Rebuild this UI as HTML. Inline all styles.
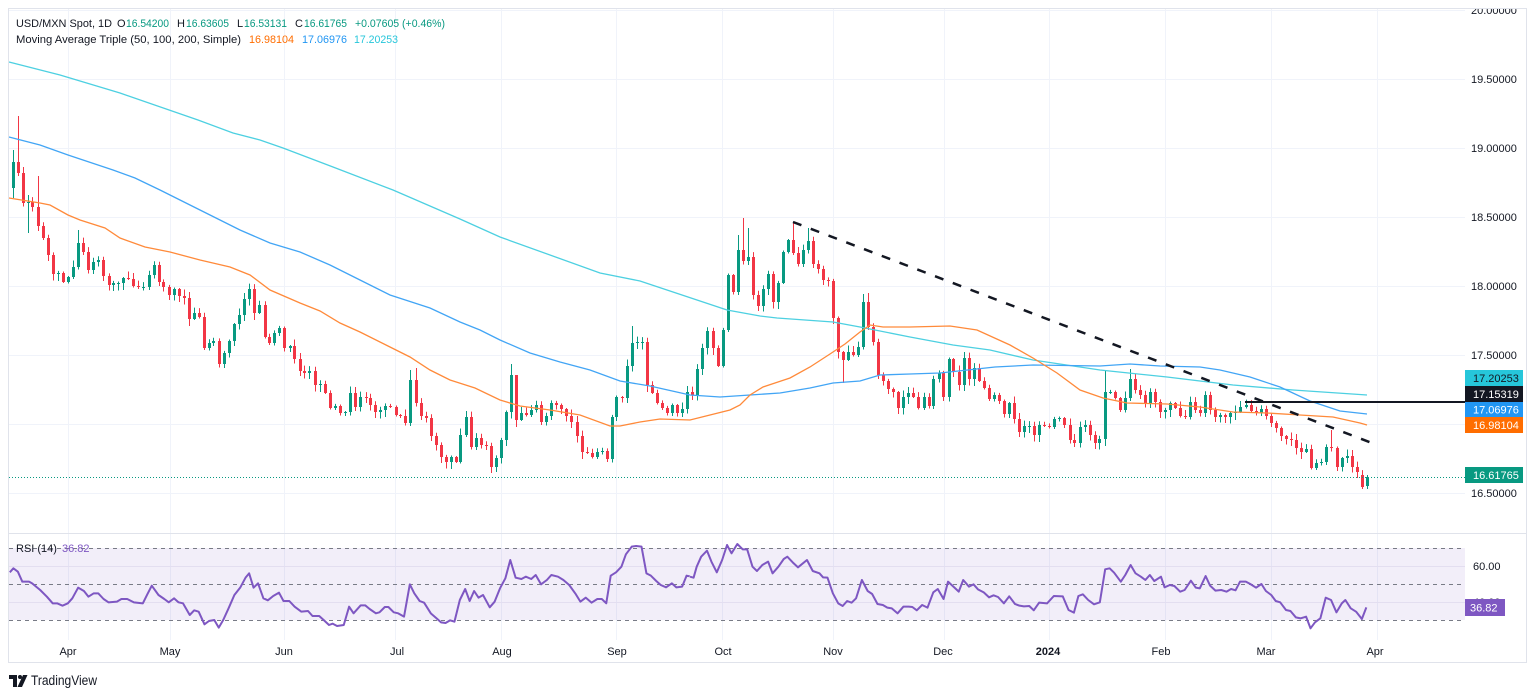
<!DOCTYPE html>
<html><head><meta charset="utf-8">
<style>
html,body{margin:0;padding:0;background:#fff;width:1536px;height:697px;overflow:hidden}
svg{display:block}
text{font-family:"Liberation Sans",sans-serif}
</style></head>
<body>
<svg id="s" width="1536" height="697" viewBox="0 0 1536 697" xmlns="http://www.w3.org/2000/svg">
<rect x="0" y="0" width="1536" height="697" fill="#fff"/>
<!-- grid -->
<g stroke="#f0f3fa" stroke-width="1">
<line x1="9" y1="79.5" x2="1465" y2="79.5"/>
<line x1="9" y1="148.5" x2="1465" y2="148.5"/>
<line x1="9" y1="217.5" x2="1465" y2="217.5"/>
<line x1="9" y1="286.5" x2="1465" y2="286.5"/>
<line x1="9" y1="355.5" x2="1465" y2="355.5"/>
<line x1="9" y1="424.5" x2="1465" y2="424.5"/>
<line x1="9" y1="493.5" x2="1465" y2="493.5"/>
<line x1="9" y1="10.5" x2="1465" y2="10.5"/>
<line x1="68.5" y1="9" x2="68.5" y2="640"/>
<line x1="170.5" y1="9" x2="170.5" y2="640"/>
<line x1="284.5" y1="9" x2="284.5" y2="640"/>
<line x1="395.5" y1="9" x2="395.5" y2="640"/>
<line x1="501.5" y1="9" x2="501.5" y2="640"/>
<line x1="616.5" y1="9" x2="616.5" y2="640"/>
<line x1="722.5" y1="9" x2="722.5" y2="640"/>
<line x1="833.5" y1="9" x2="833.5" y2="640"/>
<line x1="944.5" y1="9" x2="944.5" y2="640"/>
<line x1="1049.5" y1="9" x2="1049.5" y2="640"/>
<line x1="1165.5" y1="9" x2="1165.5" y2="640"/>
<line x1="1271.5" y1="9" x2="1271.5" y2="640"/>
<line x1="1377.5" y1="9" x2="1377.5" y2="640"/>
</g>

<!-- candles -->
<g id="cg"></g>

<!-- moving averages -->
<polyline fill="none" stroke="#4dd0e1" stroke-width="1.3" points="9,62 60,75 120,93 198,120 233,133 260,140 283,148 333,167 393,190 460,219 500,237 600,273 640,281 700,301 727,310 760,316 777,318 833,322 860,327 910,337 953,345 990,350 1033,360 1100,370 1167,377 1233,385 1293,390 1367,395"/>
<polyline fill="none" stroke="#42a5f5" stroke-width="1.3" points="9,137 40,145 68,155 83,160 113,170 135,178 160,190 180,200 210,215 240,230 270,243 300,252 330,265 360,280 390,295 430,308 460,322 480,330 500,340 530,353 560,362 590,370 620,381 650,386 690,395 720,397 750,395 780,393 810,388 833,383 860,381 880,375 910,374 940,373 995,367 1033,365 1100,366 1130,364 1160,366 1200,367 1220,370 1250,377 1280,387 1310,401 1340,411 1367,414"/>
<polyline fill="none" stroke="#ff8a3a" stroke-width="1.3" points="9,198 40,203 50,205 68,215 80,220 105,228 120,238 145,247 170,252 200,260 230,267 250,275 270,290 300,303 320,311 340,323 360,332 390,347 410,357 430,370 450,380 475,388 500,400 520,406 550,410 580,415 610,426 620,426 640,422 660,419 690,420 710,415 730,410 740,405 750,395 763,387 790,378 810,367 830,354 845,344 860,332 870,325 883,327 910,327 950,326 977,330 1010,345 1033,358 1057,373 1080,390 1103,398 1127,403 1167,404 1200,407 1233,412 1267,413 1300,415 1333,417 1360,423 1367,425"/>

<!-- current price dotted line -->
<line x1="9" y1="477.5" x2="1465" y2="477.5" stroke="#089981" stroke-width="1" stroke-dasharray="1 2"/>
<!-- trend line -->
<line x1="793" y1="222" x2="1372" y2="443" stroke="#131722" stroke-width="2.5" stroke-dasharray="9 10"/>
<!-- horizontal line -->
<line x1="1245" y1="402" x2="1465" y2="402" stroke="#131722" stroke-width="2"/>

<!-- frame -->
<rect x="8.5" y="8.5" width="1518" height="654" fill="none" stroke="#e0e3eb" stroke-width="1"/>
<line x1="9" y1="533.5" x2="1527" y2="533.5" stroke="#e0e3eb" stroke-width="1"/>

<!-- price axis labels -->
<g font-size="11" fill="#131722">
<text x="1471" y="14">20.00000</text>
<text x="1471" y="83">19.50000</text>
<text x="1471" y="152">19.00000</text>
<text x="1471" y="221">18.50000</text>
<text x="1471" y="290">18.00000</text>
<text x="1471" y="359">17.50000</text>
<text x="1471" y="497">16.50000</text>
</g>
<rect x="1465" y="0" width="62" height="8" fill="#fff"/>
<line x1="8" y1="8.5" x2="1527" y2="8.5" stroke="#e0e3eb" stroke-width="1"/>
<g font-size="11">
<rect x="1465" y="370" width="58" height="16" fill="#26c6da"/>
<text x="1473" y="382" fill="#131722">17.20253</text>
<rect x="1465" y="386" width="58" height="16" fill="#131722"/>
<text x="1473" y="398" fill="#fff">17.15319</text>
<rect x="1465" y="402" width="58" height="15" fill="#2196f3"/>
<text x="1473" y="413.5" fill="#fff">17.06976</text>
<rect x="1465" y="417" width="58" height="16" fill="#ff6d00"/>
<text x="1473" y="429" fill="#fff">16.98104</text>
<rect x="1465" y="467" width="58" height="16" fill="#089981"/>
<text x="1473" y="479" fill="#fff">16.61765</text>
</g>

<!-- header legend -->
<g font-size="11">
<text x="16" y="27" fill="#131722" textLength="96" lengthAdjust="spacingAndGlyphs">USD/MXN Spot, 1D</text>
<text x="117" y="27" fill="#131722">O</text><text x="126" y="27" fill="#089981" textLength="43" lengthAdjust="spacingAndGlyphs">16.54200</text>
<text x="177" y="27" fill="#131722">H</text><text x="186" y="27" fill="#089981" textLength="43" lengthAdjust="spacingAndGlyphs">16.63605</text>
<text x="237" y="27" fill="#131722">L</text><text x="244" y="27" fill="#089981" textLength="43" lengthAdjust="spacingAndGlyphs">16.53131</text>
<text x="295" y="27" fill="#131722">C</text><text x="304" y="27" fill="#089981" textLength="43" lengthAdjust="spacingAndGlyphs">16.61765</text>
<text x="355" y="27" fill="#089981" textLength="90" lengthAdjust="spacingAndGlyphs">+0.07605 (+0.46%)</text>
<text x="16" y="43" fill="#131722" textLength="225" lengthAdjust="spacingAndGlyphs">Moving Average Triple (50, 100, 200, Simple)</text>
<text x="249" y="43" fill="#ff6d00" textLength="45" lengthAdjust="spacingAndGlyphs">16.98104</text>
<text x="302" y="43" fill="#2196f3" textLength="45" lengthAdjust="spacingAndGlyphs">17.06976</text>
<text x="354" y="43" fill="#26c6da" textLength="44" lengthAdjust="spacingAndGlyphs">17.20253</text>
</g>

<!-- RSI pane -->
<rect x="9" y="548" width="1456" height="72" fill="#7e57c2" fill-opacity="0.1"/>
<line x1="9" y1="566.5" x2="1465" y2="566.5" stroke="#e3def0" stroke-width="1"/>
<line x1="9" y1="602.5" x2="1465" y2="602.5" stroke="#e3def0" stroke-width="1"/>
<g stroke="#787b86" stroke-width="1" stroke-dasharray="4 4">
<line x1="9" y1="548.5" x2="1465" y2="548.5"/>
<line x1="9" y1="584.5" x2="1465" y2="584.5"/>
<line x1="9" y1="620.5" x2="1465" y2="620.5"/>
</g>
<g transform="translate(0,535) scale(0.446428,0.333333)">
<polyline fill="none" stroke="#7e57c2" stroke-width="2" vector-effect="non-scaling-stroke" stroke-linejoin="round" points="22,112 30,100 40,110 50,140 65,140 72,145 90,165 105,185 118,205 128,205 140,212 152,205 162,190 175,158 188,168 198,185 210,175 220,175 232,192 243,202 262,200 272,192 285,192 300,202 320,205 330,178 340,152 355,180 368,192 378,202 390,190 400,202 410,205 425,240 435,226 445,230 458,268 468,258 480,255 490,278 500,255 512,220 525,180 538,158 550,128 558,115 568,158 578,145 590,190 600,196 612,183 625,173 635,198 648,198 660,215 675,230 690,228 700,243 715,243 725,255 737,270 745,266 755,273 770,270 782,215 792,235 808,211 818,211 828,222 842,235 850,232 862,216 870,216 882,232 892,235 905,245 918,148 928,175 940,198 950,203 965,235 978,250 988,262 998,264 1008,256 1018,260 1030,195 1042,162 1052,198 1062,168 1072,188 1082,180 1097,217 1108,200 1120,160 1132,130 1143,75 1155,128 1168,132 1178,125 1190,132 1200,120 1212,148 1225,135 1235,120 1250,125 1262,135 1275,150 1290,178 1300,200 1312,188 1325,203 1338,192 1348,192 1358,205 1368,122 1380,112 1392,95 1402,58 1415,35 1425,33 1437,35 1448,115 1458,122 1470,138 1480,150 1492,157 1505,145 1515,157 1528,155 1538,122 1545,124"/>
</g>
<g transform="translate(690,535) scale(0.446428,0.333333)">
<polyline fill="none" stroke="#7e57c2" stroke-width="2" vector-effect="non-scaling-stroke" stroke-linejoin="round" points="0,125 8,128 15,95 25,65 38,47 48,80 60,112 72,75 83,30 93,55 106,27 118,43 128,43 140,95 150,108 162,90 175,80 185,115 198,95 210,72 218,65 230,82 242,97 262,75 275,108 290,115 298,127 308,128 320,175 332,205 342,213 352,198 362,203 372,190 385,135 398,168 408,177 420,207 432,210 442,218 452,220 465,235 478,215 490,215 498,216 508,226 520,210 532,218 545,172 555,162 568,192 578,140 590,155 602,170 612,135 625,155 635,148 645,163 658,172 670,187 680,181 690,186 703,205 715,184 728,207 738,212 748,214 760,213 770,226 782,203 800,205 815,183 835,184 848,225 860,233 870,183 880,178 892,195 905,208 918,202 930,103 940,100 950,113 965,140 975,120 987,90 998,115 1010,125 1020,135 1030,120 1040,138 1055,125 1063,157 1075,150 1085,153 1098,170 1108,165 1122,137 1133,158 1142,160 1155,123 1165,152 1177,167 1190,165 1202,170 1212,162 1222,166 1232,140 1245,140 1255,147 1268,158 1280,147 1290,168 1302,180 1312,198 1322,202 1335,225 1345,228 1357,247 1368,250 1380,245 1390,280 1400,262 1412,250 1424,188 1436,195 1448,232 1460,205 1468,195 1480,220 1492,230 1505,252 1515,217"/>
</g>
<text x="16" y="552" font-size="11" fill="#131722">RSI (14)</text>
<text x="62" y="552" font-size="11" fill="#7e57c2">36.82</text>
<g font-size="11" fill="#131722">
<text x="1473" y="570">60.00</text>
<text x="1473" y="606">40.00</text>
</g>
<rect x="1465" y="599" width="40" height="17" fill="#7e57c2"/>
<text x="1470" y="611.5" font-size="11" fill="#fff">36.82</text>

<!-- x axis labels -->
<g font-size="11" fill="#131722" text-anchor="middle">
<text x="68" y="655">Apr</text>
<text x="170" y="655">May</text>
<text x="284" y="655">Jun</text>
<text x="397" y="655">Jul</text>
<text x="502" y="655">Aug</text>
<text x="617" y="655">Sep</text>
<text x="723" y="655">Oct</text>
<text x="833" y="655">Nov</text>
<text x="943" y="655">Dec</text>
<text x="1048" y="655" font-weight="bold">2024</text>
<text x="1161" y="655">Feb</text>
<text x="1266" y="655">Mar</text>
<text x="1375" y="655">Apr</text>
</g>

<!-- TradingView logo -->
<g fill="#131722">
<rect x="9" y="675" width="8" height="4"/>
<rect x="13" y="675" width="4" height="12"/>
<circle cx="20" cy="677" r="2"/>
<polygon points="23,675 27.5,675 22,687 17.5,687"/>
</g>
<text x="31" y="685" font-size="13.5" fill="#131722" textLength="66" lengthAdjust="spacingAndGlyphs">TradingView</text>
</svg>

<script>
(function(){
var D="13:162,18:173,23:203,28:202,32:207,38:226,43:238,48:255,53:274,58:273,63:282,68:277,73:267,78:243,83:252,88:270,93:262,98:260,103:276,109:285,113:283,118:283,123:278,128:279,133:286,138:287,143:287,149:275,154:265,159:282,163:287,169:295,174:289,179:296,184:298,189:319,194:313,199:317,204:348,209:343,213:341,219:364,224:353,229:341,234:324,239:315,244:299,249:289,254:313,259:305,265:337,269:343,274:333,279:328,284:348,290:346,294:359,300:371,304:373,309:371,315:385,320:384,325:393,330:408,335:406,340:413,345:412,350:393,355:407,360:397,366:398,370:405,375:412,380:410,385:406,390:407,396:415,400:416,405:423,410:380,416:403,421:416,426:418,431:436,436:445,441:457,446:462,451:457,456:462,460:435,466:417,471:447,476:438,481:445,486:446,491:467,496:458,501:440,506:412,511:375,516:420,521:413,526:415,531:410,536:405,541:422,546:416,551:403,556:405,561:409,566:416,571:422,577:436,582:452,587:453,592:457,597:452,602:451,607:459,612:417,616:397,622:398,627:366,632:343,637:342,642:342,647:385,652:393,657:403,662:408,667:413,672:405,677:413,682:409,687:392,692:395,697:369,702:348,707:331,713:348,718:366,723:330,728:275,733:292,738:250,743:261,748:257,753:295,758:306,763:289,768:274,773:302,778:283,783:252,788:240,793:253,798:264,803:250,808:241,813:264,818:269,823:280,828:281,833:318,838:352,843:360,848:352,853:355,858:347,863:302,868:327,873:342,878:375,883:381,888:389,893:392,898:408,903:397,908:393,913:397,918:408,924:397,929:406,933:379,939:373,943:397,949:359,953:372,959:385,964:358,969:379,974:368,979:381,984:388,989:399,994:395,999:401,1004:414,1009:403,1014:419,1019:432,1024:426,1029:426,1034:435,1039:425,1044:426,1049:427,1054:419,1059:418,1064:425,1070:440,1074:443,1080:427,1085:425,1090:435,1095:443,1099:439,1105:392,1110:392,1115:398,1120:410,1125:398,1130:379,1135:390,1140:395,1145:403,1150:392,1155:402,1160:412,1165:410,1170:403,1175:408,1180:416,1185:417,1190:402,1195:410,1200:413,1205:395,1210:410,1215:417,1220:415,1225:417,1230:413,1235:412,1240:407,1246:405,1251:411,1256:413,1261:409,1266:416,1271:423,1276:428,1281:436,1286:439,1291:440,1296:448,1301:452,1306:449,1311:468,1316:463,1321:462,1326:447,1331:448,1337:467,1342:458,1347:456,1352:467,1357:472,1362:487,1367:477";
var ov={13:{o:188,h:150,l:198},18:{h:116},28:{h:195,l:233},38:{h:176},43:{l:240},78:{h:230},410:{h:370},416:{h:368},491:{l:473},511:{h:364},516:{h:375},632:{h:326},738:{h:235},743:{h:218},748:{h:228},793:{h:222},808:{h:228},843:{l:383},863:{h:294},868:{h:293},1105:{h:370},1130:{h:369},1331:{h:430},1362:{o:475,l:489},1367:{o:486,h:475,l:489}};
var prev=188,out="";
D.split(",").forEach(function(s,i){
 var p=s.split(":"),x=+p[0],c=+p[1],v=ov[x]||{};
 var o=(v.o!==undefined)?v.o:prev;
 var top=Math.min(o,c),bot=Math.max(o,c);
 if(bot-top<1){bot=top+1;}
 var r1=1+((i*7919)%11)*0.55,r2=1+((i*104729+3)%13)*0.5;
 var h=(v.h!==undefined)?v.h:top-r1,l=(v.l!==undefined)?v.l:bot+r2;
 var col=(c<=o)?"#089981":"#f23645";
 out+='<line x1="'+(x+0.5)+'" y1="'+h+'" x2="'+(x+0.5)+'" y2="'+l+'" stroke="'+col+'" stroke-width="1"/>';
 out+='<rect x="'+(x-1)+'" y="'+top+'" width="3" height="'+(bot-top)+'" fill="'+col+'"/>';
 prev=c;
});
document.getElementById("cg").innerHTML=out;
})();
</script>
</body></html>
